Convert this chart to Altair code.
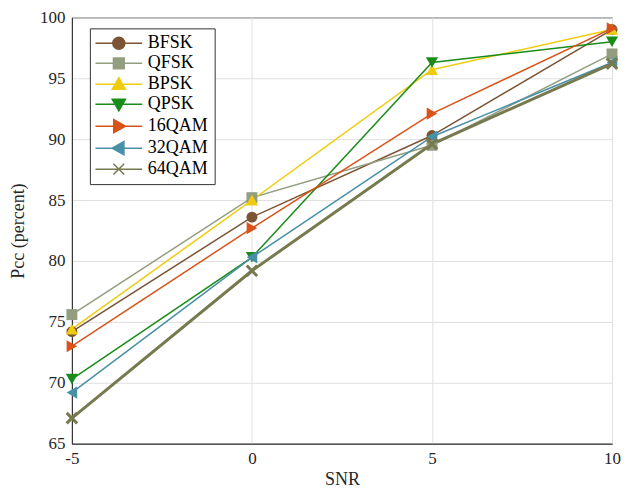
import altair as alt
import pandas as pd

snr = [-5, 0, 5, 10]
series_names = ["BFSK", "QFSK", "BPSK", "QPSK", "16QAM", "32QAM", "64QAM"]
bfsk = [74.2, 83.6, 90.3, 99.0]
qfsk = [75.6, 85.2, 89.5, 97.0]
bpsk = [74.4, 85.0, 95.7, 99.0]
qpsk = [70.3, 80.3, 96.3, 98.0]
qam16 = [73.0, 82.7, 92.1, 99.1]
qam32 = [69.2, 80.3, 90.2, 96.3]
qam64 = [67.1, 79.2, 89.6, 96.2]
all_values = [bfsk, qfsk, bpsk, qpsk, qam16, qam32, qam64]
y_ticks = [65, 70, 75, 80, 85, 90, 95, 100]

colors = ["#7b5434", "#939e80", "#f0cc10", "#1a8c1a", "#d95319", "#4890a8", "#77794f"]
line_widths = [1.5, 1.5, 1.5, 1.5, 1.5, 1.5, 3]
marker_shapes = ["circle", "square", "triangle-up", "triangle-down",
                 "triangle-right", "triangle-left", "M-1,-1L1,1M-1,1L1,-1"]
marker_sizes = [120, 120, 150, 150, 150, 150, 110]
legend_paths = [
    "M-3.9,0H3.9M1,0A1,1,0,1,1,-1,0A1,1,0,1,1,1,0Z",
    "M-3.9,0H3.9M-0.9,-0.9H0.9V0.9H-0.9Z",
    "M-3.9,0H3.9M0,-1.1L1.1,0.85H-1.1Z",
    "M-3.9,0H3.9M0,1.1L1.1,-0.85H-1.1Z",
    "M-3.9,0H3.9M1.1,0L-0.85,-1.1V1.1Z",
    "M-3.9,0H3.9M-1.1,0L0.85,-1.1V1.1Z",
    "M-3.9,0H3.9M-0.9,-0.9L0.9,0.9M-0.9,0.9L0.9,-0.9",
]

rows = []
for name, vals in zip(series_names, all_values):
    for x, y in zip(snr, vals):
        rows.append({"SNR": x, "Pcc": y, "series": name})
df = pd.DataFrame(rows)

FONT = "Liberation Serif"
color_scale = alt.Scale(domain=series_names, range=colors)

x_enc = alt.X("SNR:Q", scale=alt.Scale(domain=[-5, 10], nice=False),
              axis=alt.Axis(values=snr, title="SNR", labelExpr="datum.value",
                            labelFlush=False))
y_enc = alt.Y("Pcc:Q", scale=alt.Scale(domain=[65, 100], nice=False),
              axis=alt.Axis(values=y_ticks, title="Pcc (percent)", labelExpr="datum.value",
                            labelFlush=False))

base = alt.Chart(df)
layers = []
for name, lw, col in zip(series_names, line_widths, colors):
    layers.append(
        base.transform_filter(alt.datum.series == name)
        .mark_line(strokeWidth=lw, color=col)
        .encode(x=x_enc, y=y_enc)
    )
for name, shp, sz, lw, col in zip(series_names, marker_shapes, marker_sizes, line_widths, colors):
    filled = not shp.startswith("M")
    layers.append(
        base.transform_filter(alt.datum.series == name)
        .mark_point(shape=shp, size=sz, filled=filled, opacity=1, color=col,
                    strokeWidth=(lw if not filled else 0))
        .encode(x=x_enc, y=y_enc)
    )

leg = dict(title=None, orient="none", legendX=18, legendY=11,
           labelFont=FONT, labelFontSize=18, labelColor="#000000",
           symbolSize=144, symbolOffset=14, labelOffset=20,
           rowPadding=2, padding=6, strokeColor="#333333",
           fillColor="#ffffff", symbolOpacity=1)

legend_layer = (
    base.mark_point(filled=True, opacity=0)
    .encode(
        x=x_enc, y=y_enc,
        fill=alt.Fill("series:N", scale=color_scale, legend=alt.Legend(**leg)),
        stroke=alt.Stroke("series:N", scale=color_scale, legend=alt.Legend(**leg)),
        strokeWidth=alt.StrokeWidth("series:N",
                                    scale=alt.Scale(domain=series_names, range=line_widths),
                                    legend=alt.Legend(**leg)),
        shape=alt.Shape("series:N",
                        scale=alt.Scale(domain=series_names, range=legend_paths),
                        legend=alt.Legend(**leg)),
    )
)
layers.append(legend_layer)

chart = (
    alt.layer(*layers)
    .properties(width=541, height=427,
                padding={"left": 64, "top": 9, "right": 9, "bottom": 48},
                autosize=alt.AutoSizeParams(type="none"))
    .configure(font=FONT)
    .configure_view(stroke="#262626", strokeWidth=1)
    .configure_legend(labelFont=FONT, labelFontSize=18)
    .configure_axis(
        labelFont=FONT, labelFontSize=17, labelColor="#262626",
        titleFont=FONT, titleFontSize=18, titleFontWeight="normal", titleColor="#262626",
        gridColor="#e0e0e0", gridWidth=1, domainColor="#262626",
        ticks=False, labelPadding=7,
    )
    .configure_axisX(titlePadding=4)
    .configure_axisY(titlePadding=12)
)

chart.save("out.html", embed_options={"renderer": "svg", "actions": False})
